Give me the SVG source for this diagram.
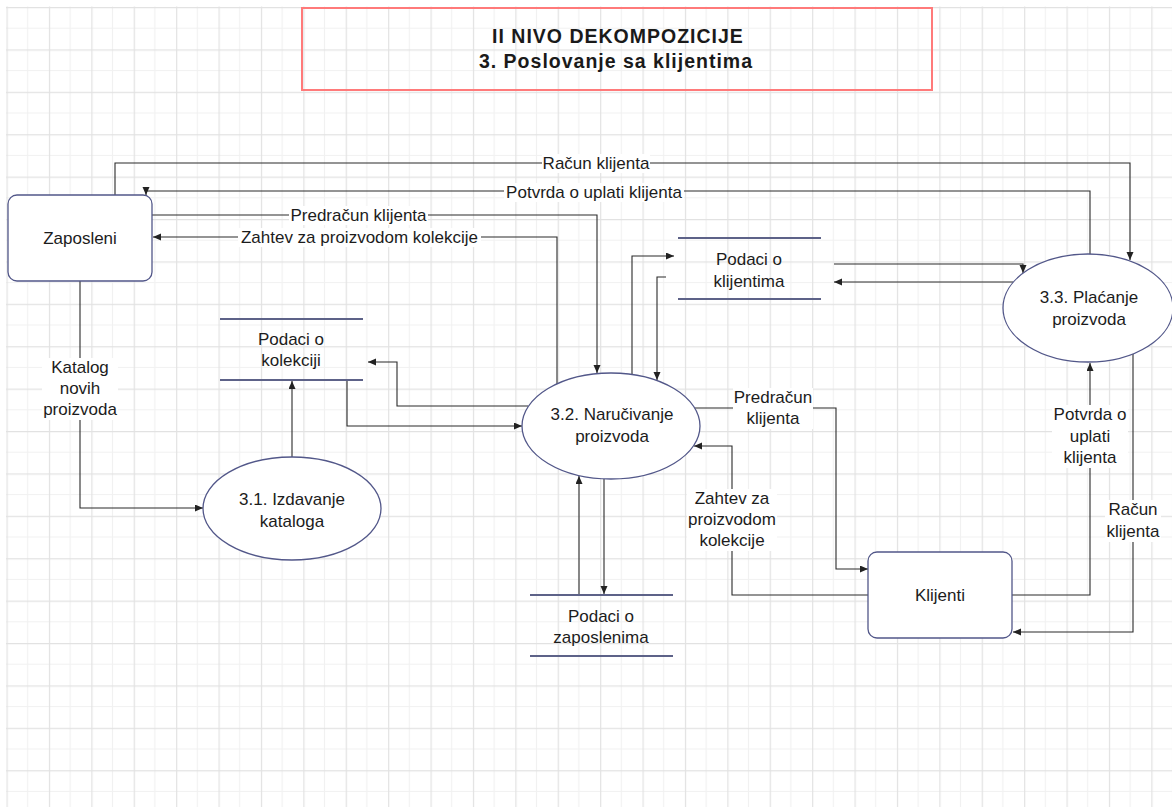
<svg xmlns="http://www.w3.org/2000/svg" width="1172" height="807" viewBox="0 0 1172 807">
<defs>
<pattern id="grid" patternUnits="userSpaceOnUse" x="6.5" y="7" width="42.4" height="42.4">
<path d="M21.2,0 V42.4 M0,21.2 H42.4" stroke="#f1f1f1" stroke-width="1.2" fill="none"/>
<path d="M0.6,0 V42.4 M0,0.6 H42.4" stroke="#e2e2e2" stroke-width="1.2" fill="none"/>
</pattern>
<marker id="arr" markerWidth="9" markerHeight="8" refX="8" refY="3.5" orient="auto" markerUnits="userSpaceOnUse">
<path d="M0,0 L8,3.5 L0,7 z" fill="#222"/>
</marker>
<style>
.t{font-family:"Liberation Sans",Arial,sans-serif;font-size:17px;fill:#1c1c1c;text-anchor:middle}
.tt{font-family:"Liberation Sans",Arial,sans-serif;font-size:19.5px;font-weight:bold;fill:#1a1a1a;text-anchor:middle;letter-spacing:1px}
.box{fill:#fff;stroke:#525789;stroke-width:1.3}
.st{stroke:#5d6288;stroke-width:2;fill:none}
.c{fill:none;stroke:#2a2a2a;stroke-width:1.1}
.ca{fill:none;stroke:#2a2a2a;stroke-width:1.1;marker-end:url(#arr)}
.bg{fill:#fff}
</style>
</defs>
<rect x="0" y="0" width="1172" height="807" fill="#fff"/>
<rect x="6" y="6.5" width="1166" height="800.5" fill="url(#grid)"/>

<g id="title">
<rect x="302" y="8" width="630" height="82" fill="none" stroke="#ff7a7a" stroke-width="2"/>
<text class="tt" x="618" y="43">II NIVO DEKOMPOZICIJE</text>
<text class="tt" x="616" y="68">3. Poslovanje sa klijentima</text>
</g>

<g id="connectors">
<path class="ca" d="M115,195 V163 H1130 V260"/>
<path class="ca" d="M1090,255 V191 H146 V195"/>
<path class="ca" d="M152,215 H597 V373"/>
<path class="ca" d="M557,384 V237 H153"/>
<path class="ca" d="M80,281 V508 H203"/>
<path class="ca" d="M292,457 V381"/>
<path class="ca" d="M528,406 H397 V362 H368"/>
<path class="ca" d="M347,380 V426 H522"/>
<path class="ca" d="M632,375 V256 H674"/>
<path class="ca" d="M666,277 H657 V380"/>
<path class="ca" d="M834,264 H1023 V273"/>
<path class="ca" d="M1013,282 H834"/>
<path class="ca" d="M695,408 H836 V569 H868"/>
<path class="ca" d="M868,595 H732 V446 H694"/>
<path class="ca" d="M579,595 V476"/>
<path class="ca" d="M604,479 V594"/>
<path class="ca" d="M1012,595 H1090 V363"/>
<path class="ca" d="M1133,354 V632 H1013"/>

<rect class="bg" x="542" y="154" width="108" height="19"/>
<text class="t" x="596" y="169">Račun klijenta</text>
<rect class="bg" x="504" y="183" width="180" height="19"/>
<text class="t" x="594" y="198">Potvrda o uplati klijenta</text>
<rect class="bg" x="289" y="206" width="139" height="19"/>
<text class="t" x="358.5" y="221">Predračun klijenta</text>
<rect class="bg" x="238" y="228" width="243" height="19"/>
<text class="t" x="359.5" y="243">Zahtev za proizvodom kolekcije</text>
<rect class="bg" x="42" y="358" width="76" height="62"/>
<text class="t" x="80" y="373">Katalog</text>
<text class="t" x="80" y="394">novih</text>
<text class="t" x="80" y="415">proizvoda</text>
<rect class="bg" x="733" y="388" width="80" height="41"/>
<text class="t" x="773" y="403">Predračun</text>
<text class="t" x="773" y="424">klijenta</text>
<rect class="bg" x="687" y="489" width="90" height="62"/>
<text class="t" x="732" y="504">Zahtev za</text>
<text class="t" x="732" y="525">proizvodom</text>
<text class="t" x="732" y="546">kolekcije</text>
<rect class="bg" x="1052" y="405" width="76" height="63"/>
<text class="t" x="1090" y="420">Potvrda o</text>
<text class="t" x="1090" y="442">uplati</text>
<text class="t" x="1090" y="463">klijenta</text>
<rect class="bg" x="1105" y="500" width="56" height="42"/>
<text class="t" x="1133" y="515">Račun</text>
<text class="t" x="1133" y="537">klijenta</text>
</g>

<g id="zaposleni">
<rect class="box" x="8" y="195" width="144" height="86" rx="9"/>
<text class="t" x="80" y="244">Zaposleni</text>
</g>
<g id="klijenti">
<rect class="box" x="868" y="552" width="144" height="86" rx="9"/>
<text class="t" x="940" y="601">Klijenti</text>
</g>
<g id="p31">
<ellipse class="box" cx="292" cy="508.5" rx="89" ry="51.5"/>
<text class="t" x="292" y="505">3.1. Izdavanje</text>
<text class="t" x="292" y="527">kataloga</text>
</g>
<g id="p32">
<ellipse class="box" cx="611" cy="426" rx="89" ry="53"/>
<text class="t" x="612" y="420">3.2. Naručivanje</text>
<text class="t" x="612" y="442">proizvoda</text>
</g>
<g id="p33">
<ellipse class="box" cx="1088" cy="308" rx="85" ry="54"/>
<text class="t" x="1089" y="303">3.3. Plaćanje</text>
<text class="t" x="1089" y="325">proizvoda</text>
</g>
<g id="ds-kolekcija">
<path class="st" d="M220,319 H363 M220,380 H363"/>
<text class="t" x="291" y="345">Podaci o</text>
<text class="t" x="291" y="366">kolekciji</text>
</g>
<g id="ds-klijenti">
<path class="st" d="M678,238 H821 M678,299 H821"/>
<text class="t" x="749" y="265">Podaci o</text>
<text class="t" x="749" y="287">klijentima</text>
</g>
<g id="ds-zaposleni">
<path class="st" d="M530,595 H673 M530,656 H673"/>
<text class="t" x="601" y="622">Podaci o</text>
<text class="t" x="601" y="643">zaposlenima</text>
</g>
</svg>
